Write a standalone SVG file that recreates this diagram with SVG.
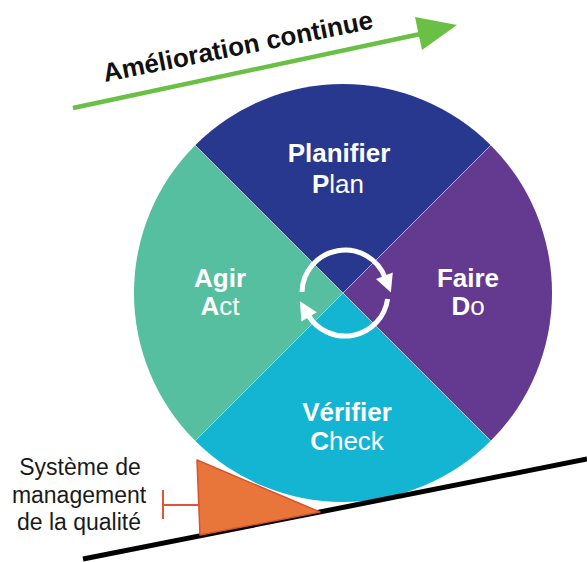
<svg xmlns="http://www.w3.org/2000/svg" width="587" height="562" viewBox="0 0 587 562">
<defs>
<style>
.lbl{font-family:"Liberation Sans",Arial,sans-serif;fill:#fff;font-size:26px;text-anchor:middle}
.b{font-weight:bold}
.sep{stroke:#c9d3e0;stroke-width:1;opacity:0.7}
.ring{fill:none;stroke:#fff;stroke-width:5}
.side{font-family:"Liberation Sans",Arial,sans-serif;fill:#1a1a1a;font-size:23px;text-anchor:middle}
</style>
<marker id="ah" markerUnits="userSpaceOnUse" markerWidth="24" markerHeight="24" viewBox="-2 -12 22 24" refX="2" refY="0" orient="auto">
<path d="M0,-9 L18,0 L0,9 Z" fill="#fff"/>
</marker>
</defs>
<rect width="587" height="562" fill="#fff"/>

<g id="title">
<line x1="73" y1="108" x2="425" y2="33" stroke="#6abf45" stroke-width="4.5"/>
<polygon points="457,25 415,17 422,50" fill="#6abf45"/>
<text x="105" y="82" transform="rotate(-11.3 105 82)" font-family="'Liberation Sans',Arial,sans-serif" font-weight="bold" font-size="26" fill="#111">Amélioration continue</text>
</g>

<g id="plan">
<path d="M343,293 L195.2,145.2 A209,209 0 0 1 490.8,145.2 Z" fill="#29388f"/>
<text class="lbl b" x="339" y="162">Planifier</text>
<text class="lbl" x="338" y="193"><tspan class="b">P</tspan>lan</text>
</g>
<g id="do">
<path d="M343,293 L490.8,145.2 A209,209 0 0 1 490.8,440.8 Z" fill="#633a90"/>
<text class="lbl b" x="468" y="287">Faire</text>
<text class="lbl" x="468" y="315"><tspan class="b">D</tspan>o</text>
</g>
<g id="act">
<path d="M343,293 L195.2,440.8 A209,209 0 0 1 195.2,145.2 Z" fill="#56bfa0"/>
<text class="lbl b" x="220" y="287">Agir</text>
<text class="lbl" x="220" y="315"><tspan class="b">A</tspan>ct</text>
</g>
<g id="check">
<path d="M343,293 L490.8,440.8 A209,209 0 0 1 195.2,440.8 Z" fill="#14b4d3"/>
<text class="lbl b" x="347" y="421">Vérifier</text>
<text class="lbl" x="347" y="450"><tspan class="b">C</tspan>heck</text>
</g>

<g id="connectors">
<line class="sep" x1="195.2" y1="145.2" x2="490.8" y2="440.8"/>
<line class="sep" x1="490.8" y1="145.2" x2="195.2" y2="440.8"/>
<path class="ring" d="M302,292 A43,43 0 0 1 385.1,277.6" marker-end="url(#ah)"/>
<path class="ring" d="M387.6,299 A43,43 0 0 1 308.1,315.1" marker-end="url(#ah)"/>
</g>

<g id="base">
<line x1="83" y1="559" x2="587" y2="459" stroke="#000" stroke-width="5"/>
</g>

<g id="wedge">
<polygon points="197,460 320,512 200,535" fill="#e8763a" stroke="#d8532b" stroke-width="1.5" stroke-linejoin="round"/>
<line x1="163" y1="505" x2="200" y2="505" stroke="#e0553a" stroke-width="2"/>
<line x1="163" y1="490" x2="163" y2="519" stroke="#e0553a" stroke-width="2"/>
</g>

<g id="qms">
<text class="side" x="80" y="475">Système de</text>
<text class="side" x="79" y="503">management</text>
<text class="side" x="79" y="530">de la qualité</text>
</g>
</svg>
